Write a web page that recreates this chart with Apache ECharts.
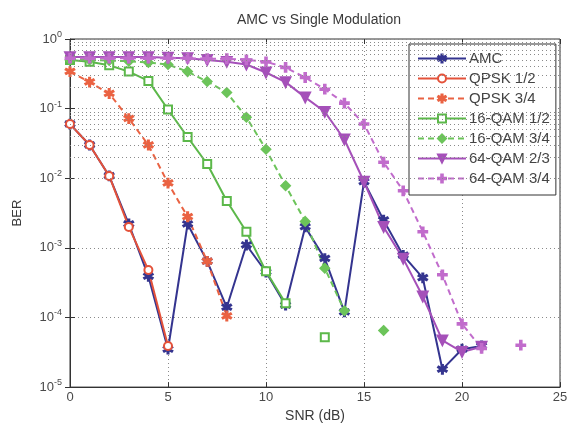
<!DOCTYPE html>
<html>
<head>
<meta charset="utf-8">
<script src="https://cdn.jsdelivr.net/npm/echarts@6/dist/echarts.min.js"></script>
<style>
  html, body { margin: 0; padding: 0; background: #ffffff; }
  #chart { width: 574px; height: 428px; }
</style>
</head>
<body>
<div id="chart"></div>
<script>
// SNR points (dB) shared by every curve; null = no error counted at that SNR
const snr = [0,1,2,3,4,5,6,7,8,9,10,11,12,13,14,15,16,17,18,19,20,21,22,23];

const berAMC    = [0.06,0.03,0.0108,0.0022,3.9e-4,3.5e-5,0.0022,6.4e-4,1.4e-4,1.1e-3,4.5e-4,1.5e-4,2.0e-3,7.0e-4,1.2e-4,0.0089,0.0025,7.8e-4,3.7e-4,1.8e-5,3.5e-5,3.9e-5,null,null];
const berQpsk12 = [0.06,0.03,0.0108,0.002,4.8e-4,3.9e-5,null,null,null,null,null,null,null,null,null,null,null,null,null,null,null,null,null,null];
const berQpsk34 = [0.34,0.24,0.165,0.072,0.030,0.0085,0.0028,6.4e-4,1.05e-4,null,null,null,null,null,null,null,null,null,null,null,null,null,null,null];
const berQam16h = [0.5,0.47,0.42,0.34,0.25,0.097,0.039,0.016,0.0047,0.0017,4.6e-4,1.6e-4,null,5.2e-5,null,null,null,null,null,null,null,null,null,null];
const berQam16q = [0.5,0.5,0.49,0.48,0.46,0.43,0.34,0.245,0.17,0.075,0.026,0.0078,0.0024,5.1e-4,1.25e-4,null,6.5e-5,null,null,null,null,null,null,null];
const berQam64t = [0.55,0.55,0.55,0.55,0.55,0.54,0.53,0.5,0.47,0.43,0.33,0.24,0.145,0.09,0.036,0.0089,0.002,7.0e-4,2.0e-4,4.7e-5,3.2e-5,3.8e-5,null,null];
const berQam64q = [0.53,0.53,0.53,0.53,0.53,0.53,0.53,0.52,0.52,0.5,0.47,0.39,0.28,0.19,0.12,0.06,0.017,0.0066,0.0017,4.1e-4,8.1e-5,3.6e-5,null,4.0e-5];

const seriesNames = ['AMC','QPSK 1/2','QPSK 3/4','16-QAM 1/2','16-QAM 3/4','64-QAM 2/3','64-QAM 3/4'];
const xTicks = [0,5,10,15,20,25];
const yDecades = [-5,-4,-3,-2,-1,0];

const PLUS = 'path://M4,0H6V4H10V6H6V10H4V6H0V4H4Z';
const STAR = 'path://M4.4,0H5.6V3.6L8.7,1.8L9.3,2.9L6.2,4.8L9.3,6.7L8.7,7.8L5.6,6V10H4.4V6L1.3,7.8L0.7,6.7L3.8,4.8L0.7,2.9L1.3,1.8L4.4,3.6Z';

function pairs(vals) {
  return snr.map((x, i) => [x, vals[i] === undefined ? null : vals[i]]);
}

// dotted minor grid at 2..9 x 10^k, as on a MATLAB semilog plot
const minorGrid = [];
yDecades.slice(0, -1).forEach(d => {
  for (let k = 2; k <= 9; k++) minorGrid.push({ yAxis: k * Math.pow(10, d) });
});

function mkSeries(name, vals, color, dashed, symbol, size, extra) {
  return Object.assign({
    name: name,
    type: 'line',
    data: pairs(vals),
    symbol: symbol,
    symbolSize: size,
    showAllSymbol: true,
    connectNulls: false,
    lineStyle: { color: color, width: 2, type: dashed ? [6, 4] : 'solid' },
    itemStyle: { color: color, borderColor: color, borderWidth: 1.8 },
    emphasis: { disabled: true },
    z: 3
  }, extra || {});
}

const gridLine = { color: '#8a8a8a', width: 1, type: [1, 3] };

const series = [
  mkSeries(seriesNames[0], berAMC, '#34348f', false, STAR, 9, {
    markLine: {
      silent: true, symbol: 'none', label: { show: false },
      lineStyle: gridLine,
      data: minorGrid, animation: false
    }
  }),
  mkSeries(seriesNames[1], berQpsk12, '#e4523a', false, 'emptyCircle', 8),
  mkSeries(seriesNames[2], berQpsk34, '#ea6242', true, STAR, 9),
  mkSeries(seriesNames[3], berQam16h, '#5cb84a', false, 'emptyRect', 8),
  mkSeries(seriesNames[4], berQam16q, '#6cc45a', true, 'diamond', 9),
  mkSeries(seriesNames[5], berQam64t, '#a550b9', false, 'triangle', 10, { symbolRotate: 180 }),
  mkSeries(seriesNames[6], berQam64q, '#c16ccc', true, PLUS, 9)
];

const axisText = { color: '#4a4a4a', fontFamily: 'Liberation Sans', fontSize: 13 };

const option = {
  animation: false,
  backgroundColor: '#ffffff',
  title: {
    text: 'AMC vs Single Modulation',
    left: 314, top: 8, textAlign: 'center',
    textStyle: { fontFamily: 'Liberation Sans', fontSize: 14, fontWeight: 'normal', color: '#3a3a3a' }
  },
  legend: {
    data: seriesNames,
    orient: 'vertical',
    left: 409, top: 44,
    backgroundColor: '#ffffff',
    borderColor: '#333333', borderWidth: 1, borderRadius: 0,
    padding: [7, 6, 9, 8],
    itemWidth: 48, itemHeight: 10, itemGap: 5,
    textStyle: { fontFamily: 'Liberation Sans', fontSize: 15, color: '#444444', padding: [0, 0, 0, -2] }
  },
  grid: {
    left: 70, right: 14, top: 39, bottom: 38,
    show: true, borderColor: '#333333', borderWidth: 1, backgroundColor: 'transparent'
  },
  xAxis: [{
    type: 'value', min: 0, max: 25, interval: 5,
    name: 'SNR (dB)', nameLocation: 'middle', nameGap: 17,
    nameTextStyle: { fontFamily: 'Liberation Sans', fontSize: 14, color: '#3a3a3a' },
    axisLine: { show: true, lineStyle: { color: '#333333' } },
    axisTick: { show: true, inside: true, length: 5, lineStyle: { color: '#333333' } },
    axisLabel: Object.assign({ margin: 4, formatter: v => (xTicks.indexOf(v) >= 0 ? String(v) : '') }, axisText),
    splitLine: { show: true, lineStyle: gridLine }
  }, {
    type: 'value', min: 0, max: 25, interval: 5, position: 'top',
    axisLine: { show: false },
    axisTick: { show: true, inside: true, length: 5, lineStyle: { color: '#333333' } },
    axisLabel: { show: false }, splitLine: { show: false }
  }],
  yAxis: [{
    type: 'log', logBase: 10, min: 1e-5, max: 1,
    name: 'BER', nameLocation: 'middle', nameGap: 46,
    nameTextStyle: { fontFamily: 'Liberation Sans', fontSize: 13, color: '#3a3a3a' },
    axisLine: { show: true, lineStyle: { color: '#333333' } },
    axisTick: { show: true, inside: true, length: 5, lineStyle: { color: '#333333' } },
    axisLabel: {
      margin: 8,
      formatter: v => '{b|10}{s|' + Math.round(Math.log10(v)) + '}',
      rich: {
        b: { fontFamily: 'Liberation Sans', fontSize: 13, color: '#4a4a4a' },
        s: { fontFamily: 'Liberation Sans', fontSize: 9, color: '#4a4a4a', padding: [0, 0, 9, 0] }
      }
    },
    splitLine: { show: true, lineStyle: gridLine }
  }, {
    type: 'log', logBase: 10, min: 1e-5, max: 1, position: 'right',
    axisLine: { show: false },
    axisTick: { show: true, inside: true, length: 5, lineStyle: { color: '#333333' } },
    axisLabel: { show: false }, splitLine: { show: false }
  }],
  series: series
};

const chart = echarts.init(document.getElementById('chart'), null, { renderer: 'canvas' });
chart.setOption(option);
</script>
</body>
</html>
